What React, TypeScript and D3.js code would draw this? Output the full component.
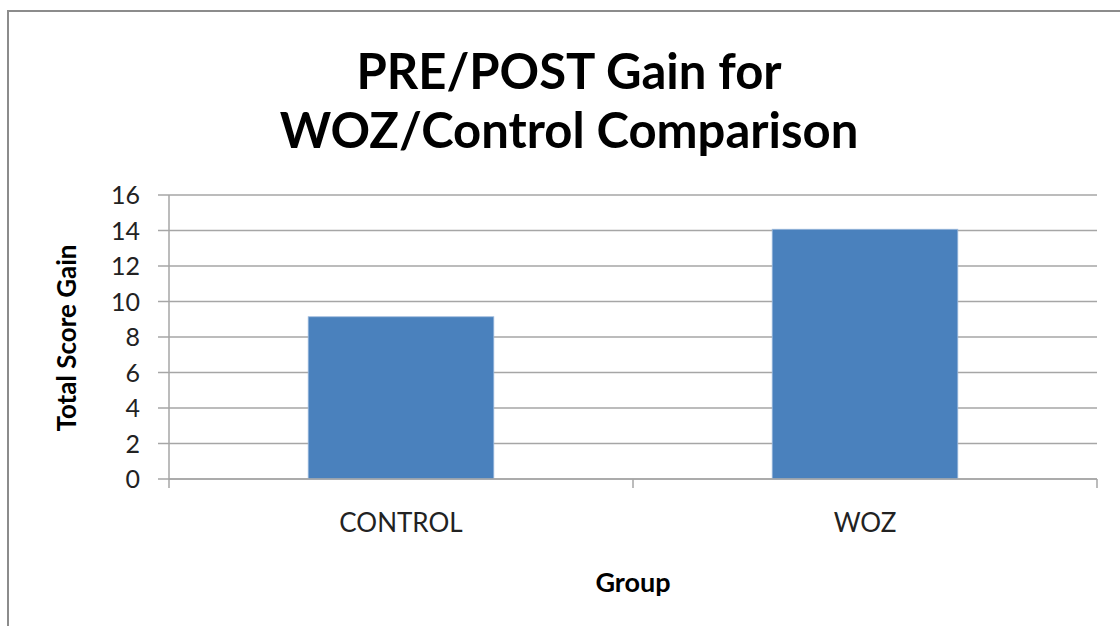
import React from "react";
import * as d3 from "d3";

const groups = ["CONTROL", "WOZ"];
const gains = [9.14, 14.07];
const yTicks = [0, 2, 4, 6, 8, 10, 12, 14, 16];
const titleLines = ["PRE/POST Gain for", "WOZ/Control Comparison"];

const W = 1120;
const H = 626;

const App = () => {
  const left = 169;
  const right = 1097;
  const top = 195;
  const bottom = 479;

  const x = d3
    .scaleBand<string>()
    .domain(groups)
    .range([left, right])
    .paddingInner(0.6)
    .paddingOuter(0.3);
  // band edges used for the category tick marks
  const outer = d3.scaleBand<string>().domain(groups).range([left, right]);
  const y = d3.scaleLinear().domain([0, 16]).range([bottom, top]);

  const font = "Lato, 'Open Sans', sans-serif";
  const grid = "#a6a6a6";

  return (
    <div style={{ position: "fixed", left: 0, top: 0 }}>
      <svg width={W} height={H} style={{ display: "block", background: "#fff" }}>
        {/* chart border, only left/top visible */}
        <rect x={8} y={11} width={W + 20} height={H + 20} fill="none" stroke="#8c8c8c" strokeWidth={2} />

        {titleLines.map((t, i) => (
          <text
            key={t}
            x={569}
            y={89 + i * 59}
            textAnchor="middle"
            fontFamily={font}
            fontWeight="bold"
            fontSize={49}
            fill="#000"
          >
            {t}
          </text>
        ))}

        {/* gridlines */}
        {yTicks.map((t) => (
          <line key={"g" + t} x1={left} x2={right} y1={y(t)} y2={y(t)} stroke={grid} strokeWidth={1.5} />
        ))}
        {/* y ticks + labels */}
        {yTicks.map((t) => (
          <g key={"t" + t}>
            <line x1={left - 11} x2={left} y1={y(t)} y2={y(t)} stroke={grid} strokeWidth={1.5} />
            <text
              x={140}
              y={y(t)}
              dy="0.36em"
              textAnchor="end"
              fontFamily={font}
              fontSize={25}
              fill="#222"
            >
              {t}
            </text>
          </g>
        ))}

        {/* bars */}
        {groups.map((g, i) => (
          <rect
            key={g}
            x={x(g)}
            y={y(gains[i])}
            width={x.bandwidth()}
            height={bottom - y(gains[i])}
            fill="#4a81bd"
            stroke="#9cb9dc"
            strokeWidth={0.8}
          />
        ))}

        {/* axes */}
        <line x1={left} x2={left} y1={top} y2={bottom + 9} stroke={grid} strokeWidth={1.5} />
        <line x1={left} x2={right} y1={bottom} y2={bottom} stroke={grid} strokeWidth={1.5} />
        {groups.map((g) => (
          <line
            key={"xt" + g}
            x1={(outer(g) as number) + outer.bandwidth()}
            x2={(outer(g) as number) + outer.bandwidth()}
            y1={bottom}
            y2={bottom + 9}
            stroke={grid}
            strokeWidth={1.5}
          />
        ))}
        {groups.map((g) => (
          <text
            key={"xl" + g}
            x={(x(g) as number) + x.bandwidth() / 2}
            y={532}
            textAnchor="middle"
            fontFamily={font}
            fontSize={26}
            fill="#222"
          >
            {g}
          </text>
        ))}

        <text
          x={633}
          y={592}
          textAnchor="middle"
          fontFamily={font}
          fontWeight="bold"
          fontSize={27}
          fill="#000"
        >
          Group
        </text>
        <text
          transform={`translate(76,338) rotate(-90)`}
          textAnchor="middle"
          fontFamily={font}
          fontWeight="bold"
          fontSize={26}
          fill="#000"
        >
          Total Score Gain
        </text>
      </svg>
    </div>
  );
};

export default App;
